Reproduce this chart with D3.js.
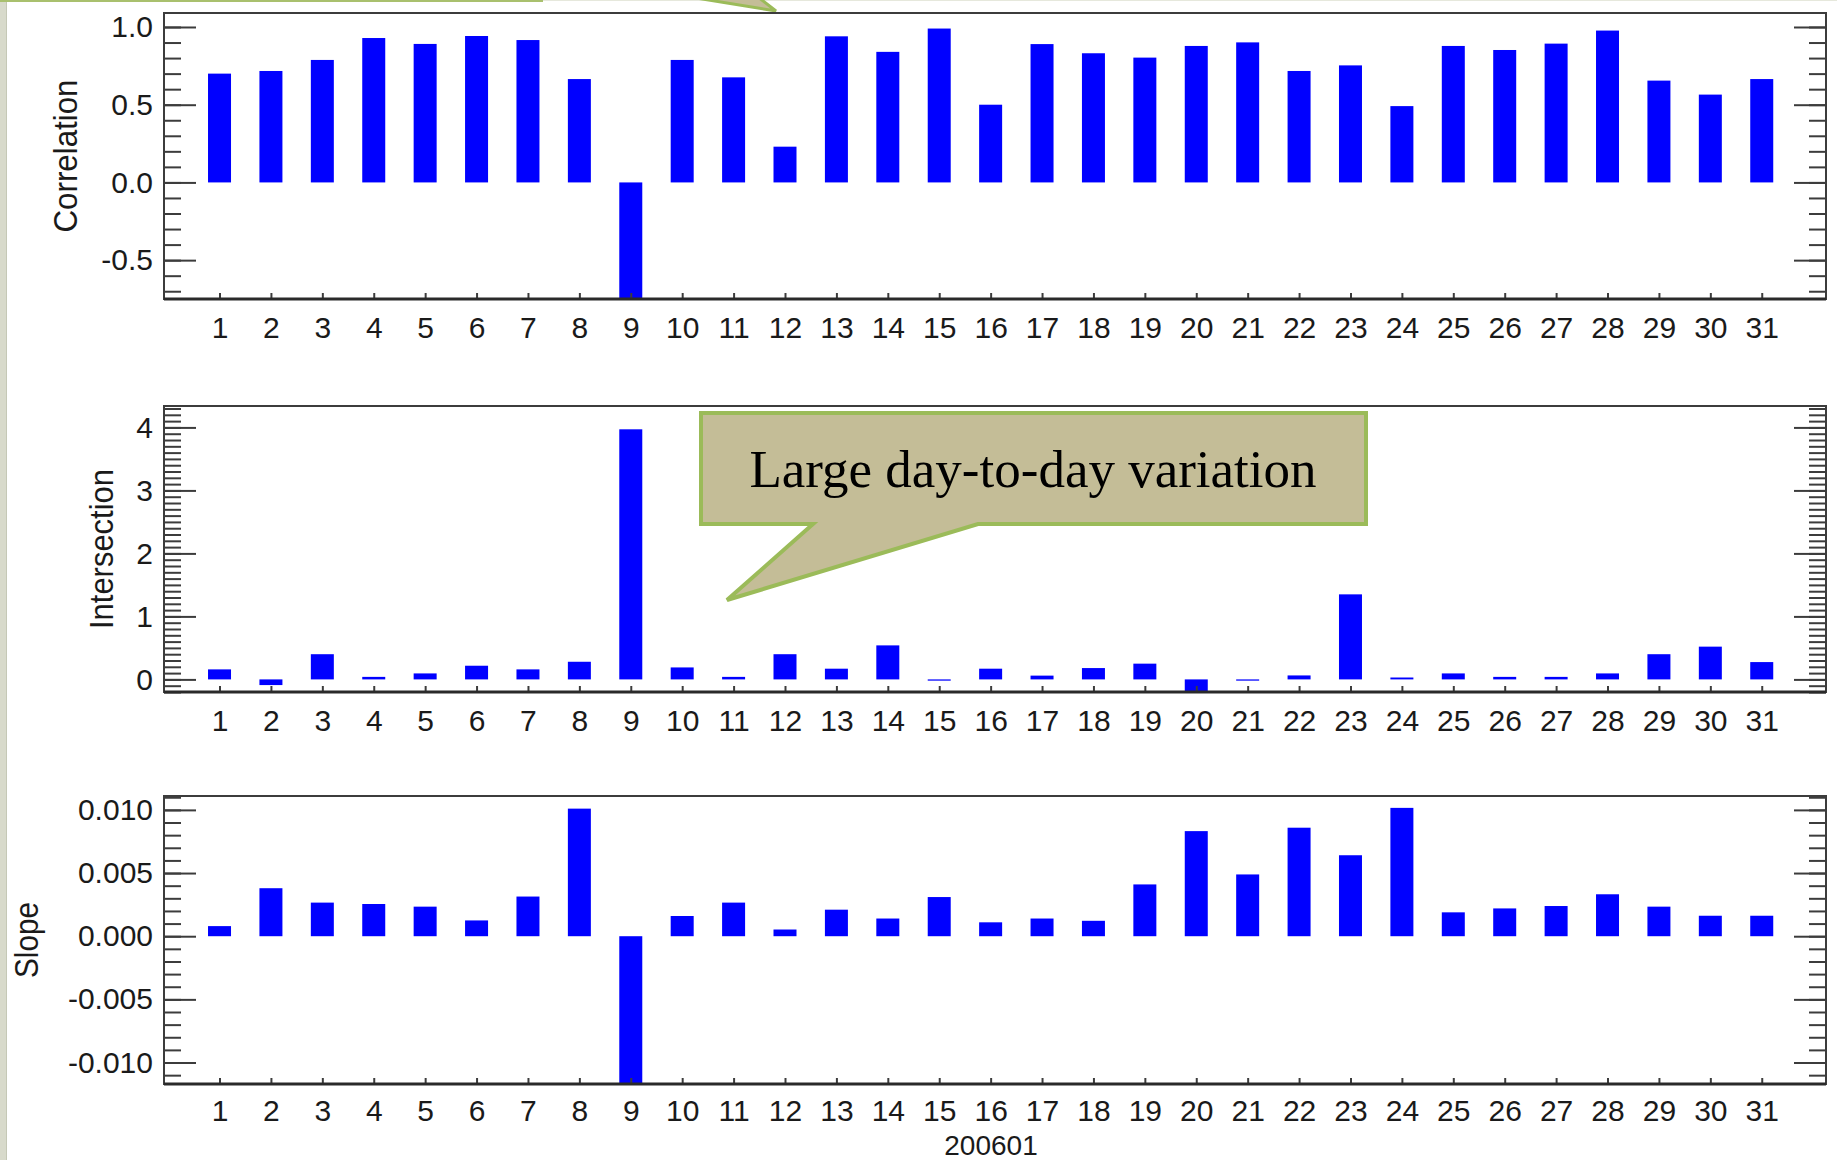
<!DOCTYPE html>
<html>
<head>
<meta charset="utf-8">
<script src="https://cdn.jsdelivr.net/npm/d3@7"></script>
<style>
  html, body { margin: 0; padding: 0; background: #fff; }
  svg { display: block; }
  .tick text { font-family: "Liberation Sans", Arial, sans-serif; font-size: 30px; fill: #1a1a1a; }
  .tick line { stroke: #3c3c3c; stroke-width: 2; }
  .ylabel { font-family: "Liberation Sans", Arial, sans-serif; font-size: 34px; fill: #1a1a1a; }
</style>
</head>
<body>
<svg id="chart" width="1837" height="1160"></svg>
<script>
const days = [1, 2, 3, 4, 5, 6, 7, 8, 9, 10, 11, 12, 13, 14, 15, 16,
  17, 18, 19, 20, 21, 22, 23, 24, 25, 26, 27, 28, 29, 30, 31];

const correlation = [0.70, 0.717, 0.788, 0.929, 0.891, 0.942, 0.916, 0.665, -0.85, 0.788, 0.676, 0.23,
  0.94, 0.84, 0.99, 0.50, 0.89, 0.831, 0.803, 0.878, 0.901, 0.717, 0.753, 0.491,
  0.878, 0.852, 0.893, 0.977, 0.655, 0.565, 0.665];

const intersection = [0.159, -0.09, 0.40, 0.04, 0.095, 0.217, 0.159, 0.28, 3.97, 0.19, 0.04, 0.40,
  0.17, 0.54, -0.02, 0.17, 0.06, 0.18, 0.25, -0.25, -0.02, 0.063, 1.35, 0.03,
  0.095, 0.04, 0.04, 0.095, 0.40, 0.52, 0.275];

const slope = [0.0008, 0.0038, 0.00266, 0.00255, 0.00234, 0.00125, 0.00314, 0.0101, -0.013, 0.0016, 0.00266, 0.00053,
  0.0021, 0.0014, 0.0031, 0.0011, 0.0014, 0.00122, 0.0041, 0.00832, 0.00489, 0.00859, 0.00641, 0.01016,
  0.00189, 0.0022, 0.00239, 0.00332, 0.00234, 0.00162, 0.00162];

const corrTicks = [-0.5, 0.0, 0.5, 1.0];
const interTicks = [0, 1, 2, 3, 4];
const slopeTicks = [-0.010, -0.005, 0.000, 0.005, 0.010];

const xTitle = "200601";
const calloutText = "Large day-to-day variation";

const svg = d3.select("#chart");
const plotLeft = 164, plotRight = 1826;

// page decoration (slide edge)
svg.append("rect").attr("x", 0).attr("y", 0).attr("width", 6).attr("height", 1160).attr("fill", "#d8dacb");
svg.append("line").attr("x1", 6.5).attr("x2", 6.5).attr("y1", 0).attr("y2", 1160).attr("stroke", "#c5c8b6");
svg.append("rect").attr("x", 0).attr("y", 0).attr("width", 543).attr("height", 2).attr("fill", "#a9c06e");
svg.append("line").attr("x1", 543).attr("x2", 1837).attr("y1", 0.5).attr("y2", 0.5).attr("stroke", "#e6e8dc");
svg.append("path")
  .attr("d", "M690,-3 L776,11 L758,-3 Z")
  .attr("fill", "#c4bd97").attr("stroke", "#9bbb59").attr("stroke-width", 3);

const x = d3.scaleLinear().domain([-0.08, 32.25]).range([plotLeft, plotRight]);
const barW = 23;

const panels = [
  {name: "Correlation", values: correlation, ticks: corrTicks, step: 0.1, domain: [-0.75, 1.09],
    top: 13, bottom: 299, fmt: d => d.toFixed(1), labelX: 77, labelLen: 153, pad: 18},
  {name: "Intersection", values: intersection, ticks: interTicks, step: 0.1, domain: [-0.2, 4.34],
    top: 406, bottom: 692, fmt: d => d.toFixed(0), labelX: 113, labelLen: 160, pad: 18},
  {name: "Slope", values: slope, ticks: slopeTicks, step: 0.001, domain: [-0.0117, 0.0111],
    top: 796, bottom: 1084, fmt: d => d.toFixed(3), labelX: 38, labelLen: 76, pad: 16}
];

panels.forEach((p, i) => {
  const y = d3.scaleLinear().domain(p.domain).range([p.bottom, p.top]);
  const minor = d3.range(Math.ceil(p.domain[0] / p.step), Math.floor(p.domain[1] / p.step) + 1)
    .map(k => +(k * p.step).toFixed(6));

  const g = svg.append("g").attr("class", "panel");

  svg.append("clipPath").attr("id", "clip" + i)
    .append("rect")
      .attr("x", plotLeft).attr("y", p.top)
      .attr("width", plotRight - plotLeft).attr("height", p.bottom - p.top);

  g.append("g").attr("clip-path", `url(#clip${i})`)
    .selectAll(".bar")
    .data(p.values)
    .enter().append("rect")
      .classed("bar", true)
      .attr("x", (d, j) => x(days[j]) - barW / 2)
      .attr("y", d => y(Math.max(0, d)))
      .attr("width", barW)
      .attr("height", d => Math.abs(y(d) - y(0)))
      .attr("fill", "#0000ff");

  // left axis
  g.append("g")
    .attr("transform", `translate(${plotLeft}, 0)`)
    .call(d3.axisLeft(y).tickValues(minor).tickSize(-17).tickFormat(""))
    .call(a => a.select(".domain").remove());
  g.append("g")
    .attr("transform", `translate(${plotLeft}, 0)`)
    .call(d3.axisLeft(y).tickValues(p.ticks).tickSize(-32).tickPadding(11).tickFormat(p.fmt))
    .call(a => a.select(".domain").remove());

  // right axis (mirror, no labels)
  g.append("g")
    .attr("transform", `translate(${plotRight}, 0)`)
    .call(d3.axisRight(y).tickValues(minor).tickSize(-17).tickFormat(""))
    .call(a => a.select(".domain").remove());
  g.append("g")
    .attr("transform", `translate(${plotRight}, 0)`)
    .call(d3.axisRight(y).tickValues(p.ticks).tickSize(-32).tickFormat(""))
    .call(a => a.select(".domain").remove());

  // bottom axis
  g.append("g")
    .attr("transform", `translate(0, ${p.bottom})`)
    .call(d3.axisBottom(x).tickValues(days).tickSize(-6).tickPadding(p.pad))
    .call(a => a.select(".domain").remove());

  // frame
  g.append("rect")
    .attr("x", plotLeft).attr("y", p.top)
    .attr("width", plotRight - plotLeft).attr("height", p.bottom - p.top)
    .attr("fill", "none").attr("stroke", "#3c3c3c").attr("stroke-width", 2);
  g.append("line")
    .attr("x1", plotLeft).attr("x2", plotRight)
    .attr("y1", p.bottom).attr("y2", p.bottom)
    .attr("stroke", "#2a2a2a").attr("stroke-width", 3);

  g.append("text")
    .attr("class", "ylabel")
    .attr("transform", `translate(${p.labelX}, ${(p.top + p.bottom) / 2}) rotate(-90)`)
    .attr("text-anchor", "middle")
    .attr("textLength", p.labelLen)
    .attr("lengthAdjust", "spacingAndGlyphs")
    .text(p.name);
});

svg.append("text")
  .attr("x", (plotLeft + plotRight) / 2 - 4)
  .attr("y", 1155)
  .attr("text-anchor", "middle")
  .style("font-family", "'Liberation Sans', Arial, sans-serif")
  .style("font-size", "28px")
  .attr("fill", "#1a1a1a")
  .text(xTitle);

// callout
svg.append("path")
  .attr("d", "M701,413 L1366,413 L1366,524 L978,524 L727,600 L813,524 L701,524 Z")
  .attr("fill", "#c4bd97")
  .attr("stroke", "#9bbb59")
  .attr("stroke-width", 4);

svg.append("text")
  .attr("x", 1033)
  .attr("y", 487)
  .attr("text-anchor", "middle")
  .style("font-family", "'Liberation Serif', 'Times New Roman', serif")
  .style("font-size", "53px")
  .attr("fill", "#000")
  .text(calloutText);
</script>
</body>
</html>
